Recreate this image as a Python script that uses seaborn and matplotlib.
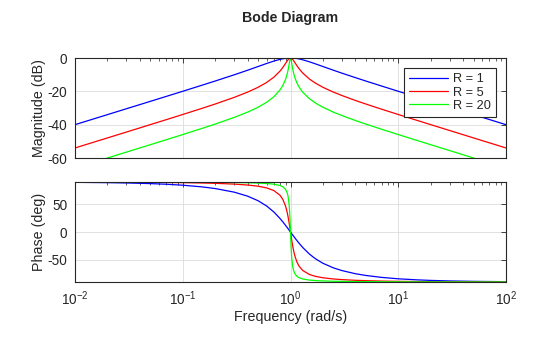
import matplotlib
matplotlib.use("Agg")
import matplotlib.pyplot as plt
import seaborn as sns
import pandas as pd
from matplotlib.ticker import LogLocator, NullFormatter, FixedLocator

# ---- data ----
freq = [0.01, 0.02, 0.03, 0.05, 0.07, 0.1, 0.15, 0.2, 0.3, 0.4, 0.5, 0.6, 0.7, 0.8,
        0.85, 0.9, 0.93, 0.95, 0.97, 0.98, 0.99, 1.0, 1.01, 1.02, 1.03, 1.05, 1.07,
        1.1, 1.15, 1.2, 1.3, 1.5, 1.7, 2, 2.5, 3, 4, 5, 7, 10, 15, 20, 30, 50, 100]

mag_r1 = [-40.00, -33.98, -30.45, -26.01, -23.08, -19.96, -16.38, -13.81, -10.09, -7.33,
          -5.12, -3.30, -1.85, -0.80, -0.44, -0.19, -0.09, -0.05, -0.02, -0.01, 0.00, 0.00,
          0.00, -0.01, -0.02, -0.04, -0.08, -0.16, -0.33, -0.55, -1.08, -2.29, -3.49, -5.12,
          -7.33, -9.09, -11.78, -13.81, -16.81, -19.96, -23.50, -26.01, -29.54, -33.98, -40.00]
mag_r5 = [-53.98, -47.96, -44.43, -39.98, -37.04, -33.89, -30.26, -27.61, -23.64, -20.46,
          -17.58, -14.69, -11.54, -7.83, -5.64, -3.25, -1.84, -1.02, -0.39, -0.17, -0.04, 0.00,
          -0.04, -0.17, -0.36, -0.93, -1.64, -2.81, -4.72, -6.40, -9.05, -12.64, -15.04, -17.58,
          -20.46, -22.52, -25.47, -27.61, -30.71, -33.89, -37.46, -39.98, -43.51, -47.96, -53.98]
mag_r20 = [-66.02, -60.00, -56.47, -52.02, -49.08, -45.93, -42.30, -39.65, -35.66, -32.47,
           -29.55, -26.59, -23.29, -19.14, -16.40, -12.75, -9.75, -7.17, -3.95, -2.18, -0.65, 0.00,
           -0.64, -2.12, -3.80, -6.82, -9.21, -11.93, -15.11, -17.39, -20.56, -24.45, -26.95, -29.55,
           -32.47, -34.54, -37.50, -39.65, -42.74, -45.93, -49.50, -52.02, -55.55, -60.00, -66.02]

ph_r1 = [89.43, 88.85, 88.28, 87.13, 85.98, 84.23, 81.28, 78.23, 71.75, 64.54, 56.31, 46.85,
         36.08, 24.23, 18.08, 11.92, 8.27, 5.86, 3.49, 2.31, 1.15, 0.00, -1.14, -2.27, -3.38,
         -5.58, -7.71, -10.81, -15.66, -20.14, -27.96, -39.81, -48.03, -56.31, -64.54, -69.44,
         -75.07, -78.23, -81.70, -84.23, -86.17, -87.13, -88.09, -88.85, -89.43]
ph_r5 = [89.89, 89.77, 89.66, 89.43, 89.19, 88.84, 88.24, 87.61, 86.23, 84.56, 82.41, 79.38,
         74.65, 66.04, 58.51, 46.55, 35.99, 27.16, 16.94, 11.42, 5.74, 0.00, -5.68, -11.20, -16.47,
         -26.02, -34.10, -43.67, -54.50, -61.39, -69.35, -76.50, -79.80, -82.41, -84.56, -85.71,
         -86.95, -87.61, -88.33, -88.84, -89.23, -89.43, -89.62, -89.77, -89.89]
ph_r20 = [89.97, 89.94, 89.91, 89.86, 89.80, 89.71, 89.56, 89.40, 89.06, 88.64, 88.09, 87.32,
          86.07, 83.66, 81.29, 76.68, 71.01, 64.03, 50.63, 38.95, 21.90, 0.00, -21.70, -38.39, -49.78,
          -62.88, -69.74, -75.32, -79.89, -82.24, -84.62, -86.57, -87.43, -88.09, -88.64, -88.93,
          -89.24, -89.40, -89.58, -89.71, -89.81, -89.86, -89.90, -89.94, -89.97]

series_names = ["R = 1", "R = 5", "R = 20"]
colors = ["#0000ff", "#ff0000", "#00ff00"]
mag_ticks = [-60, -40, -20, 0]
phase_ticks = [-50, 0, 50]

rows = []
for name, mg, ph in zip(series_names, [mag_r1, mag_r5, mag_r20], [ph_r1, ph_r5, ph_r20]):
    for f, m, p in zip(freq, mg, ph):
        rows.append({"freq": f, "mag": m, "phase": p, "series": name})
df = pd.DataFrame(rows)

sns.set_theme(style="white")
plt.rcParams["font.family"] = ["Liberation Sans", "DejaVu Sans"]
plt.rcParams["mathtext.default"] = "regular"
plt.rcParams["axes.unicode_minus"] = False

W, H = 560, 337
fig = plt.figure(figsize=(W / 100, H / 100), dpi=100)
left, right = 75, 506
ax1 = fig.add_axes([left / W, 1 - 158 / H, (right - left) / W, 100 / H])
ax2 = fig.add_axes([left / W, 1 - 282 / H, (right - left) / W, 100 / H])

palette = dict(zip(series_names, colors))
for ax in (ax1, ax2):
    ax.set_xscale("log")

sns.lineplot(data=df, x="freq", y="mag", hue="series", hue_order=series_names,
             palette=palette, ax=ax1, lw=0.9, estimator=None, sort=True)
sns.lineplot(data=df, x="freq", y="phase", hue="series", hue_order=series_names,
             palette=palette, ax=ax2, lw=0.9, estimator=None, sort=True, legend=False)

edge = "#262626"
for ax in (ax1, ax2):
    ax.set_xlim(1e-2, 1e2)
    ax.set_xlabel("")
    ax.set_ylabel("")
    ax.xaxis.set_major_locator(LogLocator(base=10, numticks=10))
    ax.xaxis.set_minor_locator(LogLocator(base=10, subs=range(2, 10), numticks=20))
    ax.xaxis.set_minor_formatter(NullFormatter())
    ax.grid(True, which="major", color="#dcdcdc", lw=0.6)
    ax.set_axisbelow(True)
    ax.tick_params(which="both", direction="in", top=True, right=True, color=edge,
                   labelsize=9.8, labelcolor="#262626")
    ax.tick_params(which="major", length=3.5, width=0.6)
    ax.tick_params(which="minor", length=2, width=0.5)
    ax.tick_params(axis="y", pad=5.5)
    ax.tick_params(axis="x", pad=5)
    for s in ax.spines.values():
        s.set_visible(True)
        s.set_color(edge)
        s.set_linewidth(0.8)

ax1.set_ylim(-60, 0)
ax1.yaxis.set_major_locator(FixedLocator(mag_ticks))
ax1.tick_params(axis="x", labelbottom=False)
ax2.set_ylim(-90, 90)
ax2.yaxis.set_major_locator(FixedLocator(phase_ticks))

handles, labels = ax1.get_legend_handles_labels()
leg = ax1.legend(handles, labels, loc="upper right", fontsize=9.2, frameon=True,
                 fancybox=False, edgecolor=edge, framealpha=1, handlelength=3.0,
                 borderaxespad=0.8, borderpad=0.4, labelspacing=0.1, handletextpad=0.4)
leg.get_frame().set_linewidth(0.8)

cx = (left + right) / 2 / W
fig.text(cx, 1 - 18 / H, "Bode Diagram", ha="center", va="center",
         fontsize=10.2, fontweight="bold", color="#262626")
fig.text(39 / W, 1 - 108 / H, "Magnitude (dB)", rotation=90, ha="center", va="center",
         fontsize=10.3, color="#262626")
fig.text(39 / W, 1 - 232 / H, "Phase (deg)", rotation=90, ha="center", va="center",
         fontsize=10.3, color="#262626")
fig.text(cx, 1 - 317 / H, "Frequency (rad/s)", ha="center", va="center",
         fontsize=10.3, color="#262626")

fig.savefig("out.png", dpi=100)
